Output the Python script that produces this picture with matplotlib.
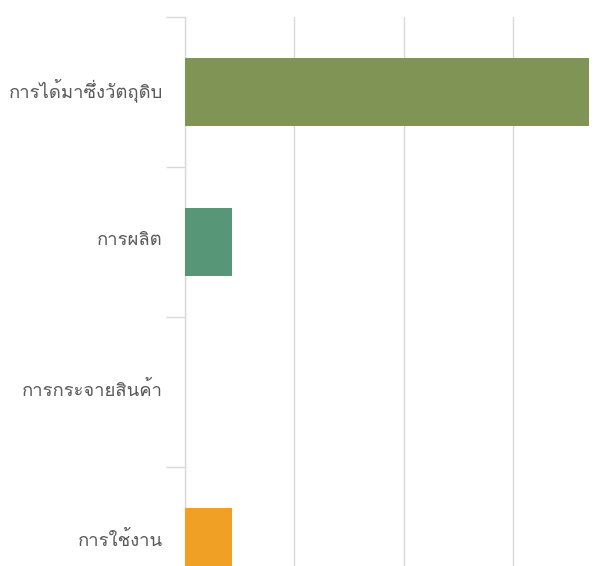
import matplotlib
matplotlib.use("Agg")
import matplotlib.pyplot as plt
import matplotlib.transforms as mtransforms
from matplotlib import font_manager
from matplotlib.ft2font import FT2Font

categories = ["การได้มาซึ่งวัตถุดิบ", "การผลิต", "การกระจายสินค้า", "การใช้งาน"]
values = [3.7, 0.43, 0.0, 0.43]
colors = ["#7f9455", "#579677", "#4472c4", "#f0a024"]

# find a font that covers Thai
thai_family = None
for f in font_manager.fontManager.ttflist:
    try:
        cmap = FT2Font(f.fname).get_charmap()
        if 0x0E01 in cmap and 0x0E32 in cmap:
            thai_family = f.name
            break
    except Exception:
        pass
families = ([thai_family] if thai_family else []) + ["DejaVu Sans"]
plt.rcParams["font.family"] = families

W, H = 612, 566
fig = plt.figure(figsize=(W / 100, H / 100), dpi=100)
left, top = 185, 17
band = 150
ax_h = band * len(categories)
unit = 109.3
ax_w = unit * 4
ax = fig.add_axes([left / W, 1 - (top + ax_h) / H, ax_w / W, ax_h / H])

y = list(range(len(categories)))
ax.barh(y, values, height=0.45, color=colors, zorder=3)
ax.set_xlim(0, 4)
ax.set_ylim(len(categories) - 0.5, -0.5)

ax.set_xticks([0, 1, 2, 3, 4])
ax.tick_params(axis="x", length=0, labelbottom=False)
ax.grid(axis="x", color="#d9d9d9", lw=1, zorder=0)

ax.set_yticks(y)
ax.set_yticklabels(categories, fontsize=13.3, color="#595959")
ax.tick_params(axis="y", which="major", length=0, pad=16)
ax.set_yticks([-0.5, 0.5, 1.5, 2.5], minor=True)
ax.tick_params(axis="y", which="minor", length=14, color="#d9d9d9", width=1)

shift = mtransforms.ScaledTranslation(0, 4 / 100, fig.dpi_scale_trans)
for lab in ax.get_yticklabels():
    lab.set_transform(lab.get_transform() + shift)

for s in ["top", "right", "bottom"]:
    ax.spines[s].set_visible(False)
ax.spines["left"].set_color("#d9d9d9")
ax.spines["left"].set_linewidth(1)

fig.savefig("out.png", dpi=100, facecolor="white")
